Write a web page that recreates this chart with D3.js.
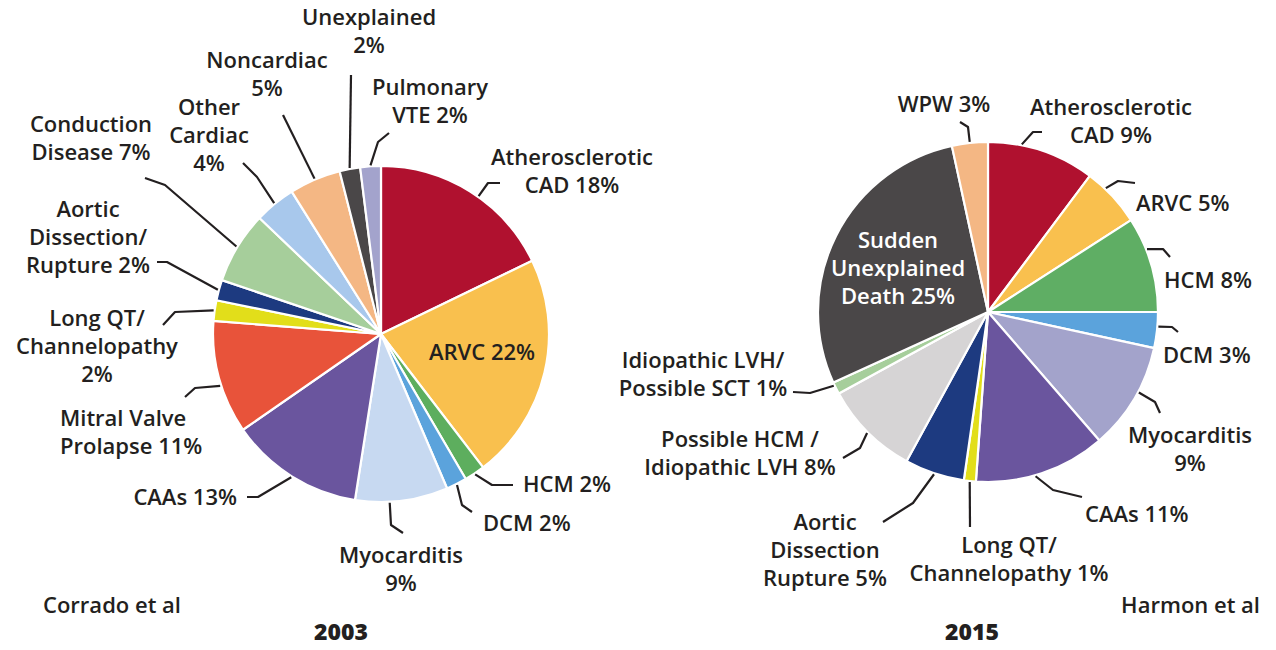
<!DOCTYPE html>
<html>
<head>
<meta charset="utf-8">
<script src="https://cdn.jsdelivr.net/npm/d3@7"></script>
<style>
  body { margin: 0; background: #fff; }
  svg text { font-family: "Open Sans", "Noto Sans", sans-serif; fill: #231f20; }
</style>
</head>
<body>
<svg id="chart" width="1276" height="650"></svg>
<script>
// ---- 2003 (Corrado et al) ----
const causes2003 = [
  "Atherosclerotic CAD", "ARVC", "HCM", "DCM", "Myocarditis", "CAAs",
  "Mitral Valve Prolapse", "Long QT/Channelopathy", "Aortic Dissection/Rupture",
  "Conduction Disease", "Other Cardiac", "Noncardiac", "Unexplained", "Pulmonary VTE"
];
const pct2003 = [18, 22, 2, 2, 9, 13, 11, 2, 2, 7, 4, 5, 2, 2];
const fill2003 = [
  "#b0112f", "#f9c04e", "#5dae5e", "#5ba3dc", "#c7d9f1", "#6a559e",
  "#e8533a", "#e2de1a", "#1d3a80", "#a6ce9b", "#a8c8ec", "#f4b784", "#4a4748", "#a3a3cc"
];
const text2003 = [
  ["Atherosclerotic", "CAD {v}%"], ["ARVC {v}%"], ["HCM {v}%"], ["DCM {v}%"],
  ["Myocarditis", "{v}%"], ["CAAs {v}%"], ["Mitral Valve", "Prolapse {v}%"],
  ["Long QT/", "Channelopathy", "{v}%"], ["Aortic", "Dissection/", "Rupture {v}%"],
  ["Conduction", "Disease {v}%"], ["Other", "Cardiac", "{v}%"], ["Noncardiac", "{v}%"],
  ["Unexplained", "{v}%"], ["Pulmonary", "VTE {v}%"]
];

// ---- 2015 (Harmon et al) ----
const causes2015 = [
  "Atherosclerotic CAD", "ARVC", "HCM", "DCM", "Myocarditis", "CAAs",
  "Long QT/Channelopathy", "Aortic Dissection Rupture", "Possible HCM / Idiopathic LVH",
  "Idiopathic LVH/Possible SCT", "Sudden Unexplained Death", "WPW"
];
const pct2015 = [9, 5, 8, 3, 9, 11, 1, 5, 8, 1, 25, 3];
const fill2015 = [
  "#b0112f", "#f9c04e", "#5fae64", "#5ba3dc", "#a3a3cb", "#6a559e",
  "#e2de1a", "#1d3a80", "#d6d4d5", "#a6ce9b", "#4a4748", "#f4b784"
];
const text2015 = [
  ["Atherosclerotic", "CAD {v}%"], ["ARVC {v}%"], ["HCM {v}%"], ["DCM {v}%"],
  ["Myocarditis", "{v}%"], ["CAAs {v}%"], ["Long QT/", "Channelopathy {v}%"],
  ["Aortic", "Dissection", "Rupture {v}%"], ["Possible HCM /", "Idiopathic LVH {v}%"],
  ["Idiopathic LVH/", "Possible SCT {v}%"], ["Sudden", "Unexplained", "Death {v}%"],
  ["WPW {v}%"]
];

// Label placement relative to each pie centre: text anchor point, leader bends,
// and where along the slice the leader attaches (0..1).
const place2003 = [
  { at: [191, -169], anchor: "middle", bends: [[107, -151], [119, -151]], t: 0.55 },
  { at: [101, 26], anchor: "middle", inside: true },
  { at: [142, 158], anchor: "start", bends: [[111, 151], [132, 151]], t: 0.5 },
  { at: [102, 197], anchor: "start", bends: [[81, 171], [91, 178]], t: 0.5 },
  { at: [20, 229], anchor: "middle", bends: [[10, 191], [22, 199]], t: 0.63 },
  { at: [-144, 171], anchor: "end", bends: [[-123, 163], [-134, 163]], t: 0.5 },
  { at: [-321, 92], anchor: "start", bends: [[-186, 54], [-196, 63]], t: 0.43 },
  { at: [-284, -8], anchor: "middle", bends: [[-206, -22], [-218, -9]], t: 0.5 },
  { at: [-293, -117], anchor: "middle", bends: [[-214, -72], [-224, -72]], t: 0.5 },
  { at: [-290, -202], anchor: "middle", bends: [[-216, -149], [-236, -156]], t: 0.5 },
  { at: [-172, -219], anchor: "middle", bends: [[-124, -157], [-138, -171]], t: 0.5 },
  { at: [-114, -266], anchor: "middle", bends: [[-98, -219]], t: 0.5 },
  { at: [-12, -309], anchor: "middle", bends: [[-30, -259]], t: 0.5 },
  { at: [49, -239], anchor: "middle", bends: [[-3, -192], [8, -201]], t: 0.5 }
];
const place2015 = [
  { at: [123, -197], anchor: "middle", bends: [[45, -180], [54, -180]], t: 0.31 },
  { at: [148, -101], anchor: "start", bends: [[130, -131], [147, -129]], t: 0.33 },
  { at: [176, -24], anchor: "start", bends: [[175, -63], [182, -55]], t: 0.34 },
  { at: [175, 51], anchor: "start", bends: [[184, 15], [190, 20]], t: 0.4 },
  { at: [202, 131], anchor: "middle", bends: [[167, 90], [172, 101]], t: 0.43 },
  { at: [97, 210], anchor: "start", bends: [[65, 178], [94, 185]], t: 0.55 },
  { at: [21, 241], anchor: "middle", bends: [[-18, 215]], t: 0.5 },
  { at: [-163, 218], anchor: "middle", bends: [[-75, 191], [-105, 210]], t: 0.5 },
  { at: [-248, 135], anchor: "middle", bends: [[-128, 136], [-145, 146]], t: 0.5 },
  { at: [-285, 56], anchor: "middle", bends: [[-178, 81], [-195, 80]], t: 0.75 },
  { at: [-90, -64], anchor: "middle", inside: true, light: true },
  { at: [-44, -200], anchor: "middle", bends: [[-20, -185], [-28, -190]], t: 0.5 }
];

const svg = d3.select("#chart");
const lineGen = d3.line();
const LINE_H = 28;
const FONT_SIZE = 22;

function drawPie(cx, cy, r, names, values, fills, texts, places) {
  const data = names.map((n, i) => ({ name: n, v: values[i], fill: fills[i], lines: texts[i], p: places[i] }));
  const arcs = d3.pie().sort(null).value(d => d.v)(data);
  const arc = d3.arc().innerRadius(0).outerRadius(r);
  const rim = d3.arc().innerRadius(r + 1).outerRadius(r + 1);

  const g = svg.append("g").attr("transform", `translate(${cx},${cy})`);

  g.selectAll("path.slice")
    .data(arcs)
    .join("path")
    .attr("class", "slice")
    .attr("d", arc)
    .attr("fill", d => d.data.fill)
    .attr("stroke", "#fff")
    .attr("stroke-width", 2.2)
    .attr("stroke-linejoin", "round");

  // leader lines from the slice rim to the label
  g.selectAll("path.leader")
    .data(arcs.filter(d => !d.data.p.inside))
    .join("path")
    .attr("class", "leader")
    .attr("fill", "none")
    .attr("stroke", "#231f20")
    .attr("stroke-width", 2.2)
    .attr("stroke-linejoin", "round")
    .attr("d", d => {
      const a = d.startAngle + d.data.p.t * (d.endAngle - d.startAngle);
      const start = rim.centroid({ startAngle: a, endAngle: a });
      return lineGen([start, ...d.data.p.bends]);
    });

  const labels = g.selectAll("text.lbl")
    .data(arcs)
    .join("text")
    .attr("class", "lbl")
    .attr("text-anchor", d => d.data.p.anchor)
    .attr("font-size", FONT_SIZE)
    .attr("font-weight", 600)
    .style("fill", d => d.data.p.light ? "#ffffff" : "#231f20");

  labels.each(function (d) {
    const [x, y] = d.data.p.at;
    d3.select(this).selectAll("tspan")
      .data(d.data.lines.map(s => s.replace("{v}", d.data.v)))
      .join("tspan")
      .attr("x", x)
      .attr("y", (s, i) => y + i * LINE_H)
      .text(s => s);
  });
}

drawPie(381, 334, 168, causes2003, pct2003, fill2003, text2003, place2003);
drawPie(988, 312, 170, causes2015, pct2015, fill2015, text2015, place2015);

// sources and years
svg.append("text").attr("x", 43).attr("y", 613).attr("font-size", 22).attr("font-weight", 600).text("Corrado et al");
svg.append("text").attr("x", 1260).attr("y", 613).attr("text-anchor", "end").attr("font-size", 22).attr("font-weight", 600).text("Harmon et al");
svg.append("text").attr("x", 341).attr("y", 640).attr("text-anchor", "middle").attr("font-size", 23).attr("font-weight", 800).text("2003");
svg.append("text").attr("x", 972).attr("y", 640).attr("text-anchor", "middle").attr("font-size", 23).attr("font-weight", 800).text("2015");
</script>
</body>
</html>
